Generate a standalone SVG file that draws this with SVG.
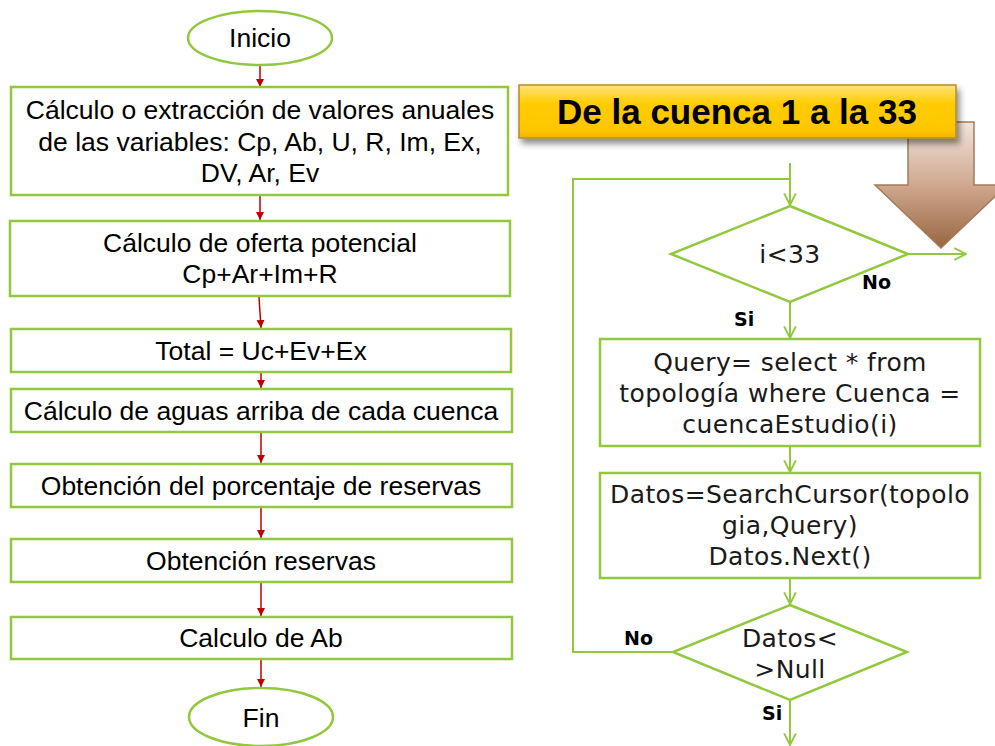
<svg xmlns="http://www.w3.org/2000/svg" width="995" height="746" viewBox="0 0 995 746">
<defs>
<style>
.box{fill:#fff;stroke:#92c83e;stroke-width:2.5}
.lt{font-family:"Liberation Sans",Arial,sans-serif;font-size:26.5px;fill:#000;text-anchor:middle}
.rt{font-family:"DejaVu Sans",sans-serif;font-size:25px;letter-spacing:0.4px;fill:#1a1a1a;text-anchor:middle}
.lbl{font-family:"DejaVu Sans",sans-serif;font-size:19px;font-weight:bold;fill:#000}
.red{stroke:#c00000;stroke-width:1.5;fill:none;marker-end:url(#ra)}
.grn{stroke:#92c83e;stroke-width:2;fill:none}
.ga{marker-end:url(#ga)}
</style>
<marker id="ra" viewBox="0 0 10 10" refX="10" refY="5" markerWidth="8" markerHeight="8" markerUnits="userSpaceOnUse" orient="auto">
<path d="M0,0 L10,5 L0,10 z" fill="#c00000"/>
</marker>
<marker id="ga" viewBox="0 0 12 12" refX="11" refY="6" markerWidth="14" markerHeight="14" markerUnits="userSpaceOnUse" orient="auto">
<path d="M1,1 L11,6 L1,11" fill="none" stroke="#92c83e" stroke-width="1.6"/>
</marker>
<linearGradient id="yel" x1="0" y1="0" x2="0" y2="1">
<stop offset="0" stop-color="#ffe37a"/>
<stop offset="0.35" stop-color="#ffcc00"/>
<stop offset="0.85" stop-color="#ffc600"/>
<stop offset="1" stop-color="#f0b400"/>
</linearGradient>
<linearGradient id="brn" x1="0" y1="0" x2="0" y2="1">
<stop offset="0" stop-color="#f0e4dd"/>
<stop offset="0.5" stop-color="#cfa88e"/>
<stop offset="1" stop-color="#986640"/>
</linearGradient>
<filter id="sh" x="-10%" y="-30%" width="120%" height="170%">
<feDropShadow dx="3" dy="5" stdDeviation="3" flood-color="#000" flood-opacity="0.45"/>
</filter>
</defs>

<g id="bigArrow">
<path d="M908,122 L974,122 L974,185 L1007,185 L941,248 L875,185 L908,185 Z" fill="url(#brn)" stroke="#a57a5a" stroke-width="1.5"/>
</g>
<g id="banner">
<rect x="519" y="85" width="437" height="53" fill="url(#yel)" stroke="#b58c2e" stroke-width="1.5" filter="url(#sh)"/>
<text x="737" y="124" font-family="Liberation Sans,Arial,sans-serif" font-size="35" font-weight="bold" text-anchor="middle" fill="#000">De la cuenca 1 a la 33</text>
</g>

<g id="connectors">
<line class="red" x1="260" y1="66" x2="260" y2="87"/>
<line class="red" x1="260" y1="196" x2="260" y2="220"/>
<line class="red" x1="259" y1="297" x2="261" y2="328"/>
<line class="red" x1="261" y1="373" x2="261" y2="388"/>
<line class="red" x1="261" y1="433" x2="261" y2="463"/>
<line class="red" x1="261" y1="508" x2="261" y2="538"/>
<line class="red" x1="261" y1="583" x2="261" y2="616"/>
<line class="red" x1="261" y1="660" x2="261" y2="687"/>

<line class="grn ga" x1="790" y1="163" x2="790" y2="205"/>
<polyline class="grn" points="673,652 573,652 573,179 790,179"/>
<line class="grn ga" x1="908" y1="254" x2="966" y2="254"/>
<line class="grn ga" x1="790" y1="302" x2="790" y2="338"/>
<line class="grn ga" x1="790" y1="446" x2="790" y2="472"/>
<line class="grn ga" x1="790" y1="578" x2="790" y2="604"/>
<line class="grn ga" x1="790" y1="700" x2="790" y2="745"/>
</g>

<g id="inicio">
<ellipse cx="260" cy="38" rx="72" ry="27" class="box"/>
<text class="lt" x="260" y="47">Inicio</text>
</g>
<g id="calc1">
<rect x="11" y="87" width="497" height="108" class="box"/>
<text class="lt" x="260" y="119">Cálculo o extracción de valores anuales</text>
<text class="lt" x="260" y="151">de las variables: Cp, Ab, U, R, Im, Ex,</text>
<text class="lt" x="260" y="182">DV, Ar, Ev</text>
</g>
<g id="oferta">
<rect x="10" y="221" width="500" height="75" class="box"/>
<text class="lt" x="260" y="252">Cálculo de oferta potencial</text>
<text class="lt" x="260" y="283">Cp+Ar+Im+R</text>
</g>
<g id="total">
<rect x="11" y="329" width="500" height="43" class="box"/>
<text class="lt" x="261" y="360">Total = Uc+Ev+Ex</text>
</g>
<g id="aguas">
<rect x="11" y="389" width="501" height="43" class="box"/>
<text class="lt" x="261" y="420">Cálculo de aguas arriba de cada cuenca</text>
</g>
<g id="porcentaje">
<rect x="11" y="464" width="501" height="43" class="box"/>
<text class="lt" x="261" y="495">Obtención del porcentaje de reservas</text>
</g>
<g id="reservas">
<rect x="11" y="539" width="501" height="43" class="box"/>
<text class="lt" x="261" y="570">Obtención reservas</text>
</g>
<g id="ab">
<rect x="11" y="617" width="501" height="42" class="box"/>
<text class="lt" x="261" y="647">Calculo de Ab</text>
</g>
<g id="fin">
<ellipse cx="261" cy="717" rx="72" ry="29" class="box"/>
<text class="lt" x="261" y="727">Fin</text>
</g>

<g id="cond1">
<polygon points="790,206 908,254 790,302 671,254" class="box"/>
<text class="rt" x="790" y="263">i&lt;33</text>
<text class="lbl" x="862" y="289">No</text>
<text class="lbl" x="734" y="326">Si</text>
</g>
<g id="query">
<rect x="600" y="339" width="380" height="107" class="box"/>
<text class="rt" x="790" y="371">Query= select * from</text>
<text class="rt" x="790" y="402">topología where Cuenca =</text>
<text class="rt" x="790" y="433">cuencaEstudio(i)</text>
</g>
<g id="datos">
<rect x="600" y="473" width="380" height="105" class="box"/>
<text class="rt" x="790" y="503">Datos=SearchCursor(topolo</text>
<text class="rt" x="790" y="534">gia,Query)</text>
<text class="rt" x="790" y="565">Datos.Next()</text>
</g>
<g id="cond2">
<polygon points="790,605 907,652 790,700 673,652" class="box"/>
<text class="rt" x="790" y="647">Datos&lt;</text>
<text class="rt" x="790" y="678">&gt;Null</text>
<text class="lbl" x="624" y="645">No</text>
<text class="lbl" x="762" y="720">Si</text>
</g>
</svg>
